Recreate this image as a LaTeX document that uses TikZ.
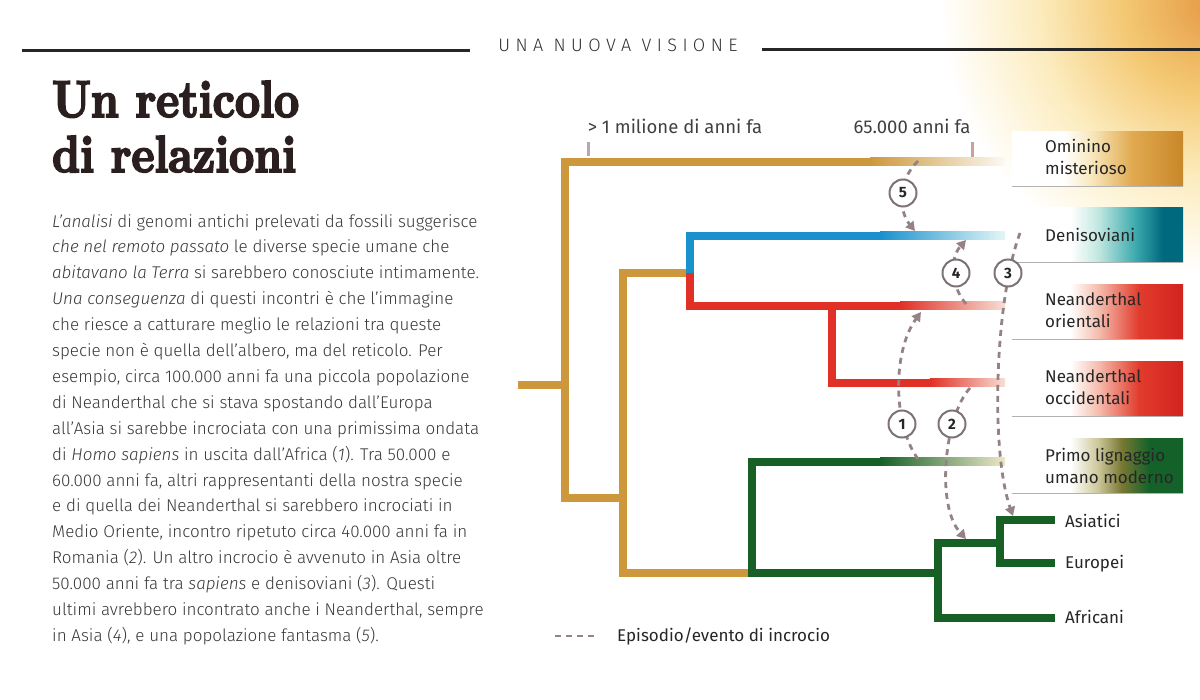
\documentclass[tikz,border=0pt]{standalone}
\usepackage{fontspec}
\setmainfont{Fira Sans}
\newfontfamily\bodyfont{Fira Sans}[UprightFont=* Light, ItalicFont=* Light Italic]
\newfontfamily\headfont{Fira Sans}[UprightFont=* Light, LetterSpace=30]
\newfontfamily\titlefont{lmroman10-bold.otf}[FakeBold=3.5, FakeStretch=0.84]
\usetikzlibrary{arrows.meta}
\definecolor{GoldBr}{RGB}{205,152,60}
\definecolor{BlueBr}{RGB}{25,145,205}
\definecolor{RedBr}{RGB}{225,48,38}
\definecolor{GreenBr}{RGB}{22,96,38}
\definecolor{DashGray}{RGB}{148,130,134}
\definecolor{NumGray}{RGB}{125,115,118}
\definecolor{TextGray}{RGB}{55,55,55}
\definecolor{TitleInk}{RGB}{42,30,30}
\definecolor{TickA}{RGB}{185,165,180}
\definecolor{TickB}{RGB}{205,160,150}
\definecolor{OmA}{RGB}{248,232,190}
\definecolor{OmB}{RGB}{225,170,80}
\definecolor{OmC}{RGB}{200,135,40}
\definecolor{DenA}{RGB}{195,232,225}
\definecolor{DenB}{RGB}{60,170,175}
\definecolor{DenC}{RGB}{0,105,125}
\definecolor{DenM}{RGB}{95,205,225}
\definecolor{DenE}{RGB}{228,246,246}
\definecolor{NeaA}{RGB}{245,190,175}
\definecolor{NeaB}{RGB}{225,60,45}
\definecolor{NeaC}{RGB}{210,35,30}
\definecolor{NeaM}{RGB}{236,120,100}
\definecolor{NeaE}{RGB}{247,222,212}
\definecolor{PriA}{RGB}{205,200,155}
\definecolor{PriB}{RGB}{120,120,50}
\definecolor{PriC}{RGB}{20,98,42}
\definecolor{PriM}{RGB}{135,135,65}
\definecolor{PriE}{RGB}{236,232,198}
\definecolor{GlowA}{RGB}{230,155,70}
\definecolor{GlowB}{RGB}{244,200,115}
\definecolor{GlowC}{RGB}{252,236,190}
\pgfdeclarehorizontalshading{omShade}{100bp}{color(0bp)=(white); color(40bp)=(white); color(48bp)=(OmA); color(60bp)=(OmB); color(75bp)=(OmC); color(100bp)=(OmC)}
\pgfdeclarehorizontalshading{denShade}{100bp}{color(0bp)=(white); color(42bp)=(white); color(50bp)=(DenA); color(61bp)=(DenB); color(69bp)=(DenC); color(100bp)=(DenC)}
\pgfdeclarehorizontalshading{neaShade}{100bp}{color(0bp)=(white); color(42bp)=(white); color(50bp)=(NeaA); color(62bp)=(NeaB); color(75bp)=(NeaC); color(100bp)=(NeaC)}
\pgfdeclarehorizontalshading{priShade}{100bp}{color(0bp)=(white); color(42bp)=(white); color(50bp)=(PriA); color(57bp)=(PriB); color(65bp)=(PriC); color(100bp)=(PriC)}
\pgfdeclareradialshading{glowShade}{\pgfpoint{0bp}{0bp}}{color(0bp)=(GlowA); color(8bp)=(GlowB); color(16bp)=(GlowC); color(25bp)=(white); color(50bp)=(white)}

\begin{document}
\begin{tikzpicture}[x=1pt, y=-1pt, >={Triangle[length=9pt,width=10pt]},
    branch/.style={line width=8pt},
    cross/.style={->, line width=2.8pt, dash pattern=on 6pt off 5pt, DashGray},
    num/.style={circle, draw=NumGray, line width=2pt, fill=white, minimum size=27pt, inner sep=0pt,
      font=\bfseries\fontsize{15}{15}\selectfont, text=black!85},
    tag/.style={minimum width=171pt, minimum height=55pt, anchor=north west, inner sep=0pt},
    lab/.style={anchor=west, align=left, inner sep=0pt, text=black!85,
      font=\fontsize{17}{22}\selectfont}]
  \useasboundingbox (0,0) rectangle (1200,700);
  % warm glow in the corner
  \begin{scope}
    \clip (0,0) rectangle (1200,700);
    \shade[shading=glowShade] (1210,5) circle (270);
  \end{scope}

  % header
  \node[font=\headfont\fontsize{18}{18}\selectfont, text=black!80] (hdr) at (618,45) {UNA NUOVA VISIONE};
  \draw[line width=3pt, black!85] (22,51) -- (470,51);
  \draw[line width=3pt, black!85] (762,50) -- (1200,50);

  % title and text
  \node[anchor=base west, inner sep=0pt, text=TitleInk, font=\titlefont\fontsize{52}{52}\selectfont] (title1) at (52,117) {Un reticolo};
  \node[anchor=base west, inner sep=0pt, text=TitleInk, font=\titlefont\fontsize{52}{52}\selectfont] (title2) at (52,172) {di relazioni};
  \node[anchor=north west, align=left, inner sep=0pt, text=TextGray, font=\bodyfont\fontsize{17}{25.9}\selectfont] (body) at (52,214) {%
    \textit{L’analisi} di genomi antichi prelevati da fossili suggerisce\\
    \textit{che nel remoto passato} le diverse specie umane che\\
    \textit{abitavano la Terra} si sarebbero conosciute intimamente.\\
    \textit{Una conseguenza} di questi incontri è che l’immagine\\
    che riesce a catturare meglio le relazioni tra queste\\
    specie non è quella dell’albero, ma del reticolo. Per\\
    esempio, circa 100.000 anni fa una piccola popolazione\\
    di Neanderthal che si stava spostando dall’Europa\\
    all’Asia si sarebbe incrociata con una primissima ondata\\
    di \textit{Homo sapiens} in uscita dall’Africa (\textit{1}). Tra 50.000 e\\
    60.000 anni fa, altri rappresentanti della nostra specie\\
    e di quella dei Neanderthal si sarebbero incrociati in\\
    Medio Oriente, incontro ripetuto circa 40.000 anni fa in\\
    Romania (\textit{2}). Un altro incrocio è avvenuto in Asia oltre\\
    50.000 anni fa tra \textit{sapiens} e denisoviani (\textit{3}). Questi\\
    ultimi avrebbero incontrato anche i Neanderthal, sempre\\
    in Asia (\textit{4}), e una popolazione fantasma (\textit{5}).};

  % time marks
  \node[lab, anchor=center, text=black!75, font=\fontsize{18.5}{22}\selectfont] (ago1) at (675,126) {> 1 milione di anni fa};
  \node[lab, anchor=center, text=black!75, font=\fontsize{18.5}{22}\selectfont] (ago2) at (912,126) {65.000 anni fa};
  \draw[line width=3pt, TickA] (588,142) -- (588,156);
  \draw[line width=3pt, TickB] (972,142) -- (972,157);

  % label boxes
  \node[tag, shading=omShade] (omBox) at (1012,131) {};
  \node[tag, shading=denShade] (denBox) at (1012,207) {};
  \node[tag, shading=neaShade] (neoBox) at (1012,284) {};
  \node[tag, shading=neaShade] (nwoBox) at (1012,361) {};
  \node[tag, shading=priShade] (priBox) at (1012,438) {};
  \foreach \b in {omBox,denBox,neoBox,nwoBox,priBox}
    \draw[black!30, line width=1.2pt] (\b.south west) -- (\b.south east);
  \node[lab] (omLab) at (1045,157) {Ominino\\misterioso};
  \node[lab] (denLab) at (1045,235) {Denisoviani};
  \node[lab] (neoLab) at (1045,310) {Neanderthal\\orientali};
  \node[lab] (nwoLab) at (1045,387) {Neanderthal\\occidentali};
  \node[lab] (priLab) at (1045,466) {Primo lignaggio\\umano moderno};
  \node[lab] (asiLab) at (1065,521) {Asiatici};
  \node[lab] (eurLab) at (1065,564) {Europei};
  \node[lab] (afrLab) at (1065,617) {Africani};

  % branches
  \draw[branch, GoldBr] (518,385) -- (561,385);
  \draw[branch, GoldBr] (870,162) -| (565,498) -- (627,498);
  \draw[branch, GoldBr] (686,273) -| (623,573) -- (748,573);
  \draw[branch, BlueBr] (880,236) -| (690,273);
  \draw[branch, RedBr] (690,273) |- (900,306);
  \draw[branch, RedBr] (832,306) |- (930,383);
  \draw[branch, GreenBr] (880,462) -| (752,573) -- (938,573);
  \draw[branch, GreenBr] (938,543) -- (1000,543);
  \draw[branch, GreenBr] (1000,543) -| (938,618) -- (1055,618);
  \draw[branch, GreenBr] (1055,520) -| (1000,563) -- (1055,563);
  \shade[left color=GoldBr, middle color=GoldBr!45, right color=GoldBr!6] (870,158) rectangle (1005,166);
  \shade[left color=BlueBr, middle color=DenM, right color=DenE] (880,232) rectangle (1005,240);
  \shade[left color=RedBr, middle color=NeaM, right color=NeaE] (900,302) rectangle (1005,310);
  \shade[left color=RedBr, middle color=NeaM, right color=NeaE] (930,379) rectangle (1005,387);
  \shade[left color=GreenBr, middle color=PriM, right color=PriE] (880,458) rectangle (1005,466);

  % interbreeding events
  \coordinate (a1s) at (918,459);
  \coordinate (a1e) at (921,312);
  \coordinate (a2s) at (970,388);
  \coordinate (a2e) at (966,539);
  \coordinate (a3s) at (1020,233);
  \coordinate (a3e) at (1013,516);
  \coordinate (a4s) at (966,304);
  \coordinate (a4e) at (966,240);
  \coordinate (a5s) at (918,161);
  \coordinate (a5e) at (915,231);
  \draw[cross] (a1s) .. controls (893,425) and (892,352) .. (a1e);
  \draw[cross] (a2s) .. controls (945,415) and (935,505) .. (a2e);
  \draw[cross] (a3s) .. controls (995,300) and (990,450) .. (a3e);
  \draw[cross] (a4s) .. controls (950,285) and (950,258) .. (a4e);
  \draw[cross] (a5s) .. controls (898,180) and (898,210) .. (a5e);
  \node[num] (n1) at (902,424) {1};
  \node[num] (n2) at (952,424) {2};
  \node[num] (n3) at (1008,273) {3};
  \node[num] (n4) at (956,273) {4};
  \node[num] (n5) at (903,193) {5};

  % legend
  \coordinate (legA) at (555,636);
  \coordinate (legB) at (596,636);
  \draw[line width=2.8pt, dash pattern=on 6pt off 5pt, DashGray] (legA) -- (legB);
  \node[lab] (legLab) at (617,636) {Episodio/evento di incrocio};
\end{tikzpicture}
\end{document}
